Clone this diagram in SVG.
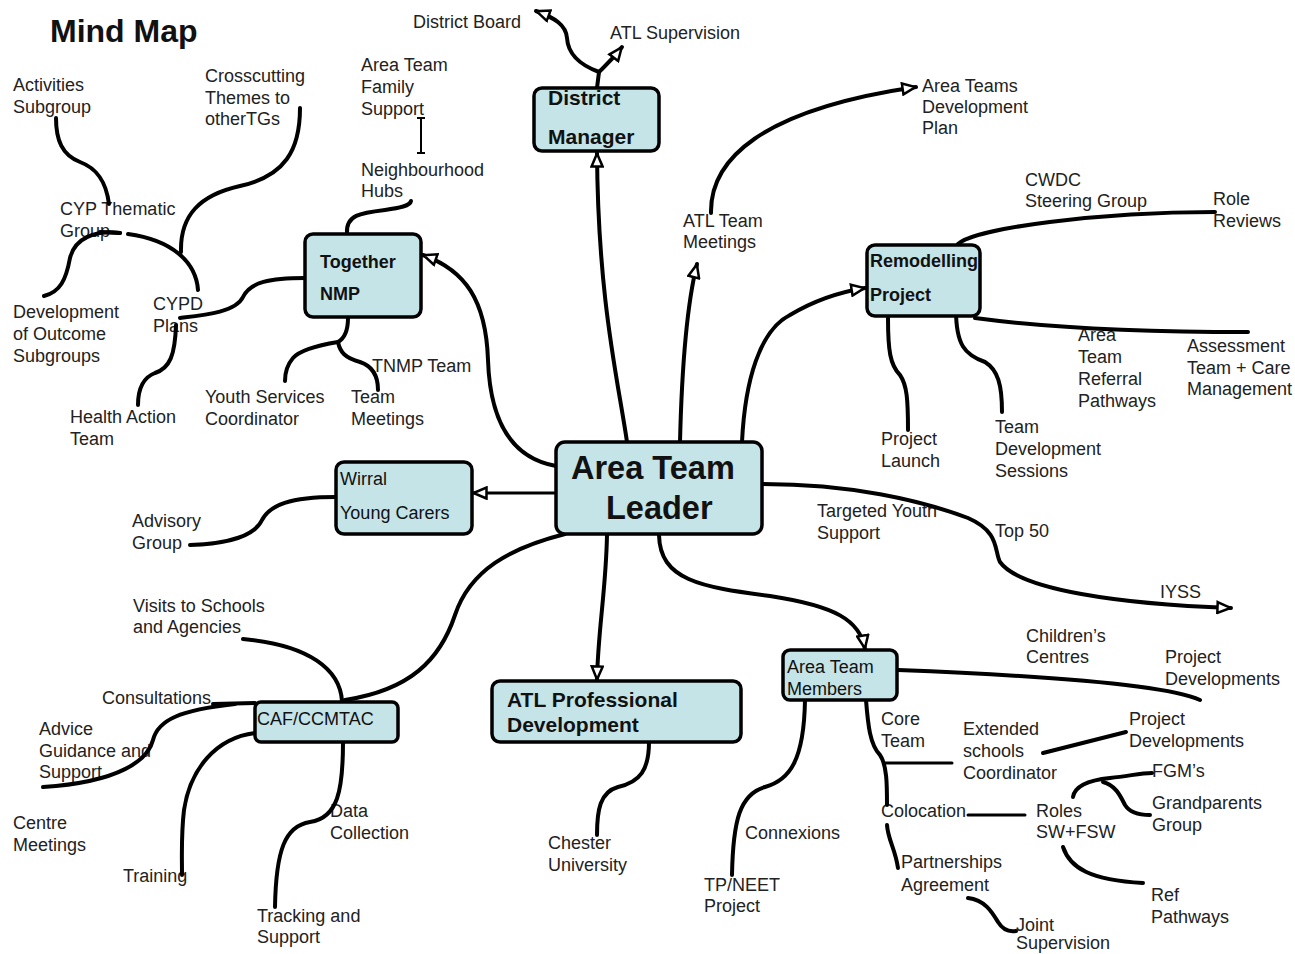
<svg xmlns="http://www.w3.org/2000/svg" width="1295" height="954" viewBox="0 0 1295 954">
<style>
.lbl{font-family:"Liberation Sans",Arial,sans-serif;font-size:18px;fill:#222}
.box{fill:#c4e4e8;stroke:#000;stroke-width:3.5}
.bt{font-family:"Liberation Sans",Arial,sans-serif;fill:#111}
.c{fill:none;stroke:#000;stroke-width:4;stroke-linecap:round;stroke-linejoin:round}
.a{marker-end:url(#arr)}
</style>
<defs>
<marker id="arr" viewBox="0 0 16 14" markerWidth="16" markerHeight="14" refX="15" refY="7" orient="auto" markerUnits="userSpaceOnUse">
<path d="M1.5,1.5 L14.5,7 L1.5,12.5 Z" fill="#fff" stroke="#000" stroke-width="2.5" stroke-linejoin="miter"/>
</marker>
</defs>
<rect width="1295" height="954" fill="#fff"/>
<text x="50" y="42" font-family="Liberation Sans,Arial,sans-serif" font-size="32" font-weight="bold" fill="#111">Mind Map</text>

<g id="labels" class="lbl">
<text id="district-board" x="413" y="28">District Board</text>
<text id="atl-supervision" x="610" y="39">ATL Supervision</text>
<text id="area-teams-dev-plan" x="922" y="92">Area Teams<tspan x="922" dy="21">Development</tspan><tspan x="922" dy="21">Plan</tspan></text>
<text id="cwdc" x="1025" y="186">CWDC<tspan x="1025" dy="21">Steering Group</tspan></text>
<text id="role-reviews" x="1213" y="205">Role<tspan x="1213" dy="22">Reviews</tspan></text>
<text id="referral" x="1078" y="341">Area<tspan x="1078" dy="22">Team</tspan><tspan x="1078" dy="22">Referral</tspan><tspan x="1078" dy="22">Pathways</tspan></text>
<text id="assessment" x="1187" y="352">Assessment<tspan x="1187" dy="21.5">Team + Care</tspan><tspan x="1187" dy="21.5">Management</tspan></text>
<text id="project-launch" x="881" y="445">Project<tspan x="881" dy="22">Launch</tspan></text>
<text id="team-dev-sessions" x="995" y="433">Team<tspan x="995" dy="22">Development</tspan><tspan x="995" dy="22">Sessions</tspan></text>
<text id="atl-team-meetings" x="683" y="227">ATL Team<tspan x="683" dy="21">Meetings</tspan></text>
<text id="family-support" x="361" y="71">Area Team<tspan x="361" dy="22">Family</tspan><tspan x="361" dy="22">Support</tspan></text>
<text id="neighbourhood" x="361" y="176">Neighbourhood<tspan x="361" dy="21">Hubs</tspan></text>
<text id="activities" x="13" y="91">Activities<tspan x="13" dy="22">Subgroup</tspan></text>
<text id="crosscutting" x="205" y="82">Crosscutting<tspan x="205" dy="21.5">Themes to</tspan><tspan x="205" dy="21.5">otherTGs</tspan></text>
<text id="cyp-thematic" x="60" y="215">CYP Thematic<tspan x="60" dy="22">Group</tspan></text>
<text id="cypd-plans" x="153" y="310">CYPD<tspan x="153" dy="22">Plans</tspan></text>
<text id="outcome-subgroups" x="13" y="318">Development<tspan x="13" dy="22">of Outcome</tspan><tspan x="13" dy="22">Subgroups</tspan></text>
<text id="health-action" x="70" y="423">Health Action<tspan x="70" dy="22">Team</tspan></text>
<text id="youth-services" x="205" y="403">Youth Services<tspan x="205" dy="22">Coordinator</tspan></text>
<text id="team-meetings" x="351" y="403">Team<tspan x="351" dy="22">Meetings</tspan></text>
<text id="tnmp-team" x="372" y="372">TNMP Team</text>
<text id="advisory" x="132" y="527">Advisory<tspan x="132" dy="22">Group</tspan></text>
<text id="visits" x="133" y="612">Visits to Schools<tspan x="133" dy="21">and Agencies</tspan></text>
<text id="consultations" x="102" y="704">Consultations</text>
<text id="advice" x="39" y="735">Advice<tspan x="39" dy="22">Guidance and</tspan><tspan x="39" dy="21">Support</tspan></text>
<text id="centre-meetings" x="13" y="829">Centre<tspan x="13" dy="22">Meetings</tspan></text>
<text id="training" x="123" y="882">Training</text>
<text id="data-collection" x="330" y="817">Data<tspan x="330" dy="22">Collection</tspan></text>
<text id="tracking" x="257" y="922">Tracking and<tspan x="257" dy="21">Support</tspan></text>
<text id="chester" x="548" y="849">Chester<tspan x="548" dy="22">University</tspan></text>
<text id="connexions" x="745" y="839">Connexions</text>
<text id="tp-neet" x="704" y="891">TP/NEET<tspan x="704" dy="21">Project</tspan></text>
<text id="core-team" x="881" y="725">Core<tspan x="881" dy="22">Team</tspan></text>
<text id="extended" x="963" y="735">Extended<tspan x="963" dy="22">schools</tspan><tspan x="963" dy="22">Coordinator</tspan></text>
<text id="project-dev-2" x="1129" y="725">Project<tspan x="1129" dy="22">Developments</tspan></text>
<text id="childrens" x="1026" y="642">Children’s<tspan x="1026" dy="21">Centres</tspan></text>
<text id="project-dev-1" x="1165" y="663">Project<tspan x="1165" dy="22">Developments</tspan></text>
<text id="fgms" x="1152" y="777">FGM’s</text>
<text id="grandparents" x="1152" y="809">Grandparents<tspan x="1152" dy="22">Group</tspan></text>
<text id="colocation" x="881" y="817">Colocation</text>
<text id="roles" x="1036" y="817">Roles<tspan x="1036" dy="21">SW+FSW</tspan></text>
<text id="partnerships" x="901" y="868">Partnerships<tspan x="901" dy="23">Agreement</tspan></text>
<text id="ref-pathways" x="1151" y="901">Ref<tspan x="1151" dy="22">Pathways</tspan></text>
<text id="joint" x="1016" y="931">Joint<tspan x="1016" dy="18">Supervision</tspan></text>
<text id="targeted" x="817" y="517">Targeted Youth<tspan x="817" dy="22">Support</tspan></text>
<text id="top50" x="995" y="537">Top 50</text>
<text id="iyss" x="1160" y="598">IYSS</text>
</g>

<g id="connectors" class="c">
<path class="a" d="M627,442 C618,380 598,300 597,153"/>
<path class="a" d="M680,442 C682,360 688,300 697,264"/>
<path class="a" d="M742,442 C745,380 760,330 790,315 C815,300 840,292 865,288"/>
<path class="a" d="M711,213 C710,160 760,110 916,87"/>
<path class="a" d="M556,466 C510,458 490,420 488,360 C486,300 465,270 423,255"/>
<path class="a" d="M556,493 L473,493" style="stroke-width:3"/>
<path class="a" d="M607,535 C606,590 598,630 597,680"/>
<path class="a" d="M659,535 C660,580 700,587 770,596 C835,606 860,620 865,649"/>
<path class="a" d="M763,484 C850,484 920,500 968,518 C1000,532 994,550 1000,562 C1020,590 1120,604 1231,608"/>
<path class="a" d="M597,88 L599,72 C580,65 568,55 567,38 C566,25 555,18 536,11"/>
<path class="a" d="M599,72 C605,66 612,60 622,47"/>
<path d="M347,233 C346,215 360,213 385,210 C400,208 410,206 411,201"/>
<path d="M421,118 L421,153 M417,118 L425,118 M417,153 L425,153" style="stroke-width:2;stroke-linecap:butt"/>
<path d="M305,278 C270,278 250,282 243,297 C236,312 205,315 180,318"/>
<path d="M198,290 C196,262 172,240 128,234"/>
<path d="M181,252 C180,215 200,195 240,186 C285,176 300,150 300,108"/>
<path d="M109,204 C106,180 96,168 80,162 C62,155 56,140 56,118"/>
<path d="M100,232 L120,233"/>
<path d="M120,233 C95,230 75,238 70,258 C66,280 60,292 44,296"/>
<path d="M176,325 C175,355 170,368 155,373 C142,378 138,390 138,405"/>
<path d="M348,318 C348,330 345,338 338,342 C320,345 300,350 293,358 C287,365 285,372 285,381"/>
<path d="M338,342 C340,352 345,358 360,362 C372,366 378,376 378,390"/>
<path d="M336,497 C290,497 270,505 262,520 C255,535 230,544 190,545"/>
<path d="M565,534 C510,548 470,570 455,615 C440,660 410,690 345,700"/>
<path d="M342,701 C340,670 310,645 243,639"/>
<path d="M255,703 L213,704"/>
<path d="M235,704 C180,710 158,720 153,740 C148,760 120,782 43,787"/>
<path d="M255,733 C215,738 190,770 184,810 C181,835 182,855 182,875"/>
<path d="M343,742 C343,790 338,818 310,822 C285,826 276,850 275,907"/>
<path d="M649,742 C649,770 640,782 618,787 C600,792 597,810 597,835"/>
<path d="M805,700 C804,760 790,780 765,787 C740,794 733,820 732,875"/>
<path d="M866,700 C868,725 870,745 880,755 C887,765 887,785 887,805"/>
<path d="M887,825 C888,840 895,848 898,868"/>
<path d="M884,763 L952,763" style="stroke-width:3"/>
<path d="M968,815 L1025,815" style="stroke-width:3"/>
<path d="M1043,753 L1126,732"/>
<path d="M898,670 C1000,674 1160,682 1200,700"/>
<path d="M1073,797 C1075,785 1090,780 1110,778 C1130,776 1140,773 1152,773"/>
<path d="M1103,782 C1115,785 1120,795 1125,805 C1130,813 1140,815 1150,815"/>
<path d="M1063,847 C1070,868 1090,880 1143,883"/>
<path d="M968,898 C985,900 992,912 998,922 C1003,930 1010,932 1016,931"/>
<path d="M958,244 C975,228 1100,212 1215,212"/>
<path d="M975,318 C1050,328 1150,332 1248,332"/>
<path d="M888,318 C888,350 890,365 900,375 C907,385 908,400 908,430"/>
<path d="M956,310 C956,345 965,355 985,362 C998,370 1002,385 1002,412"/>
</g>

<g id="district-manager">
<rect class="box" x="534" y="88" width="125" height="63" rx="8"/>
<text class="bt" x="548" y="105" font-size="21" font-weight="bold">District</text>
<text class="bt" x="548" y="144" font-size="21" font-weight="bold">Manager</text>
</g>
<g id="together-nmp">
<rect class="box" x="305" y="234" width="116" height="83" rx="8"/>
<text class="bt" x="320" y="268" font-size="18" font-weight="bold">Together</text>
<text class="bt" x="320" y="300" font-size="18" font-weight="bold">NMP</text>
</g>
<g id="remodelling-project">
<rect class="box" x="867" y="245" width="113" height="71" rx="8"/>
<text class="bt" x="870" y="267" font-size="18" font-weight="bold">Remodelling</text>
<text class="bt" x="870" y="301" font-size="18" font-weight="bold">Project</text>
</g>
<g id="area-team-leader">
<rect class="box" x="556" y="442" width="206" height="92" rx="9"/>
<text class="bt" x="571" y="479" font-size="32.5" font-weight="bold">Area Team</text>
<text class="bt" x="606" y="519" font-size="32.5" font-weight="bold">Leader</text>
</g>
<g id="wirral-young-carers">
<rect class="box" x="336" y="462" width="136" height="72" rx="8"/>
<text class="bt" x="340" y="485" font-size="18">Wirral</text>
<text class="bt" x="340" y="519" font-size="18">Young Carers</text>
</g>
<g id="caf-ccmtac">
<rect class="box" x="255" y="702" width="143" height="40" rx="6"/>
<text class="bt" x="257" y="725" font-size="18">CAF/CCMTAC</text>
</g>
<g id="atl-professional-development">
<rect class="box" x="492" y="681" width="249" height="61" rx="8"/>
<text class="bt" x="507" y="707" font-size="21" font-weight="bold">ATL Professional</text>
<text class="bt" x="507" y="732" font-size="21" font-weight="bold">Development</text>
</g>
<g id="area-team-members">
<rect class="box" x="783" y="650" width="114" height="50" rx="7"/>
<text class="bt" x="787" y="673" font-size="18">Area Team</text>
<text class="bt" x="787" y="695" font-size="18">Members</text>
</g>
</svg>
